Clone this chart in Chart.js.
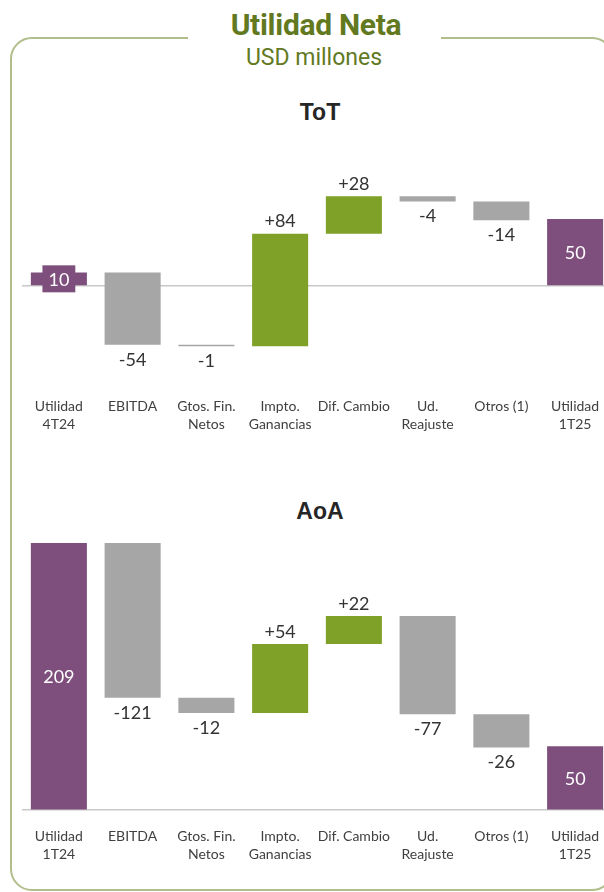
<!DOCTYPE html>
<html>
<head>
<meta charset="utf-8">
<script src="https://cdn.jsdelivr.net/npm/chart.js@4"></script>
<style>
  html, body { margin: 0; padding: 0; background: #fff; }
  body { width: 604px; height: 892px; position: relative; overflow: hidden; }
  .frame { position: absolute; left: 10px; top: 37px; width: 600px; height: 850px;
           border: 2px solid #b1bd8a; border-radius: 22px; }
  .gap { position: absolute; left: 188px; top: 30px; width: 253px; height: 16px; background: #fff; }
  .t { position: absolute; text-align: center; white-space: nowrap; }
  .main { left: 0; width: 632px; top: 10px; font: bold 30px/30px Roboto; color: #62791f; letter-spacing: -0.3px; }
  .sub { left: 0; width: 628px; top: 46px; font: 23px/23px Roboto; color: #62791f; }
  .sec { left: 0; width: 640px; font: bold 23px/23px "Liberation Sans"; color: #262626; }
  .box { position: absolute; left: 0; width: 612px; }
</style>
</head>
<body>
<div class="frame"></div>
<div class="gap"></div>
<div class="t main">Utilidad Neta</div>
<div class="t sub">USD millones</div>
<div class="t sec" style="top:101px">ToT</div>
<div class="t sec" style="top:500px">AoA</div>
<div class="box" style="top:152px;height:281px"><canvas id="tot"></canvas></div>
<div class="box" style="top:529px;height:334px"><canvas id="aoa"></canvas></div>
<script>
// categories (tick labels)
const totLabels = [['Utilidad', '4T24'], 'EBITDA', ['Gtos. Fin.', 'Netos'], ['Impto.', 'Ganancias'],
  'Dif. Cambio', ['Ud.', 'Reajuste'], 'Otros (1)', ['Utilidad', '1T25']];
const aoaLabels = [['Utilidad', '1T24'], 'EBITDA', ['Gtos. Fin.', 'Netos'], ['Impto.', 'Ganancias'],
  'Dif. Cambio', ['Ud.', 'Reajuste'], 'Otros (1)', ['Utilidad', '1T25']];

// ToT values
const totStart = 10;
const totDeltas = [-54, -1, 84, 28, -4, -14];
const totEnd = 50;

// AoA values
const aoaStart = 209;
const aoaDeltas = [-121, -12, 54, 22, -77, -26];
const aoaEnd = 50;

const PURPLE = '#7e4f7d';
const GRAY = '#a6a6a6';
const GREEN = '#7fa128';

// build floating bars for the waterfall
function waterfall(start, deltas, end) {
    const ranges = [[0, start]];
    const texts = [String(start)];
    const kinds = ['total'];
    let level = start;
    deltas.forEach(d => {
        ranges.push([level, level + d]);
        texts.push((d > 0 ? '+' : '') + d);
        kinds.push(d > 0 ? 'up' : 'down');
        level += d;
    });
    ranges.push([0, end]);
    texts.push(String(end));
    kinds.push('total');
    const colors = kinds.map(k => k === 'total' ? PURPLE : (k === 'up' ? GREEN : GRAY));
    return { ranges, texts, kinds, colors };
}

// value labels drawn next to each bar
const valueLabels = {
    id: 'valueLabels',
    afterDatasetsDraw(chart) {
        const wf = chart.options.plugins.valueLabels.wf;
        const ctx = chart.ctx;
        const meta = chart.getDatasetMeta(0);
        ctx.save();
        ctx.font = '18px Lato';
        ctx.textAlign = 'center';
        ctx.textBaseline = 'middle';
        meta.data.forEach((bar, i) => {
            const top = Math.min(bar.y, bar.base);
            const bottom = Math.max(bar.y, bar.base);
            const txt = wf.texts[i];
            if (wf.kinds[i] === 'total') {
                const cy = (top + bottom) / 2;
                const w = ctx.measureText(txt).width + 12;
                ctx.fillStyle = PURPLE;
                ctx.fillRect(bar.x - w / 2, cy - 13.5, w, 27);
                ctx.fillStyle = '#ffffff';
                ctx.fillText(txt, bar.x, cy + 1);
            } else if (wf.kinds[i] === 'up') {
                ctx.fillStyle = '#333333';
                ctx.fillText(txt, bar.x, top - 12);
            } else {
                ctx.fillStyle = '#333333';
                ctx.fillText(txt, bar.x, bottom + 15);
            }
        });
        ctx.restore();
    }
};

function makeChart(id, labels, wf, yMin, yMax) {
    return new Chart(document.getElementById(id), {
        type: 'bar',
        data: {
            labels: labels,
            datasets: [{
                data: wf.ranges,
                backgroundColor: wf.colors,
                barPercentage: 0.76,
                categoryPercentage: 1
            }]
        },
        options: {
            responsive: true,
            maintainAspectRatio: false,
            animation: false,
            layout: { padding: { left: 22, right: 0, top: 0, bottom: 0 } },
            scales: {
                x: {
                    grid: { display: false, drawTicks: false },
                    border: { display: false },
                    afterFit: s => { s.height = 40; },
                    ticks: {
                        color: '#404040',
                        font: { family: 'Lato', size: 14, lineHeight: 1.3 },
                        padding: 4,
                        maxRotation: 0,
                        autoSkip: false
                    }
                },
                y: {
                    min: yMin,
                    max: yMax,
                    border: { display: false },
                    ticks: { display: false, stepSize: 10 },
                    grid: {
                        drawTicks: false,
                        lineWidth: 1.5,
                        color: c => c.tick && c.tick.value === 0 ? '#c9c9c9' : 'rgba(0,0,0,0)'
                    }
                }
            },
            plugins: {
                legend: { display: false },
                tooltip: { enabled: false },
                valueLabels: { wf: wf }
            }
        },
        plugins: [valueLabels]
    });
}

makeChart('tot', totLabels, waterfall(totStart, totDeltas, totEnd), -80, 100);
makeChart('aoa', aoaLabels, waterfall(aoaStart, aoaDeltas, aoaEnd), -10, 220);
</script>
</body>
</html>
